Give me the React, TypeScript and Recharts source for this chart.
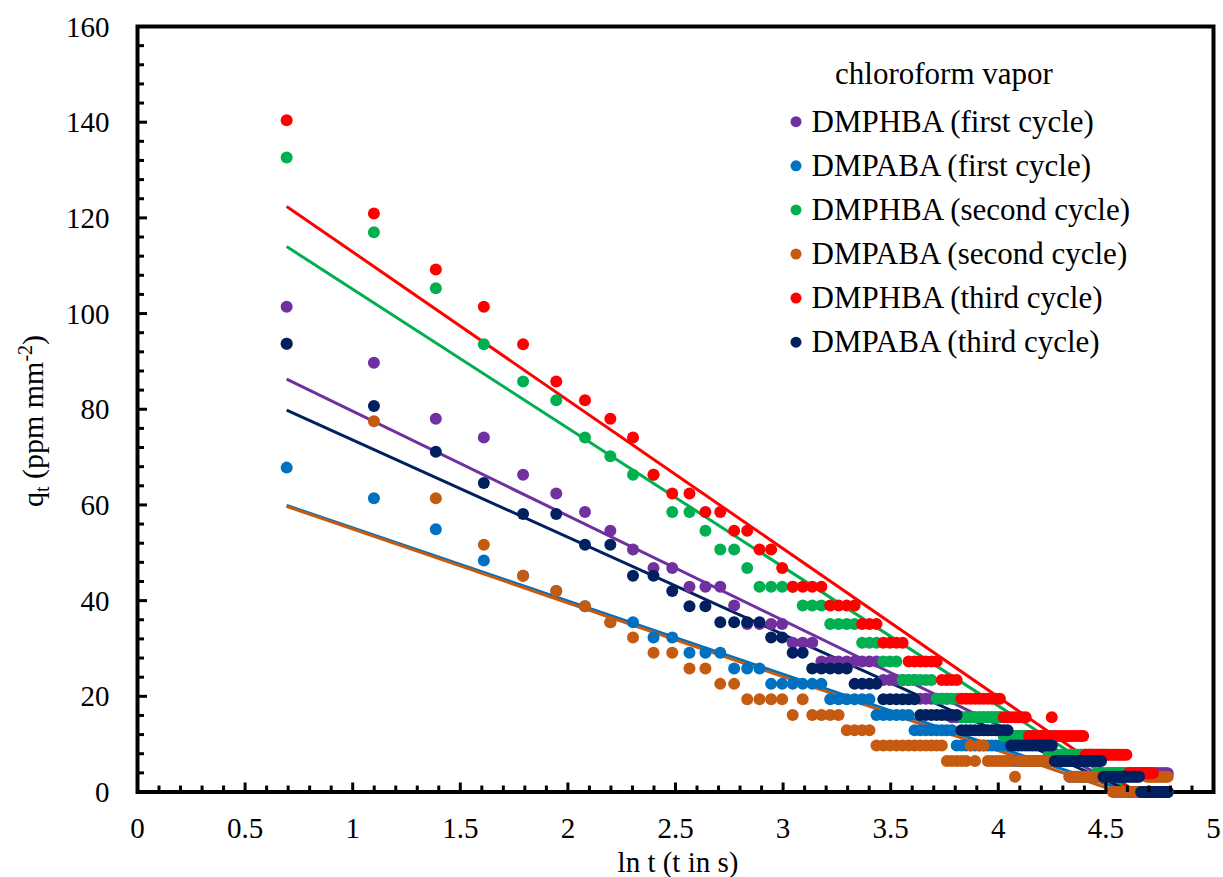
import React from "react";
import {
  ComposedChart,
  Line,
  ReferenceArea,
  Scatter,
  XAxis,
  YAxis,
} from "recharts";

const FONT = '"Liberation Serif", "Times New Roman", serif';
const W = 1223;
const H = 877;

// sampling times in seconds; the x axis is ln t
const TIME_S = [
  2, 3, 4, 5, 6, 7, 8, 9, 10, 11,
  12, 13, 14, 15, 16, 17, 18, 19, 20, 21,
  22, 23, 24, 25, 26, 27, 28, 29, 30, 31,
  32, 33, 34, 35, 36, 37, 38, 39, 40, 41,
  42, 43, 44, 45, 46, 47, 48, 49, 50, 51,
  52, 53, 54, 55, 56, 57, 58, 59, 60, 61,
  62, 63, 64, 65, 66, 67, 68, 69, 70, 71,
  72, 73, 74, 75, 76, 77, 78, 79, 80, 81,
  82, 83, 84, 85, 86, 87, 88, 89, 90, 91,
  92, 93, 94, 95, 96, 97, 98, 99, 100, 101,
  102, 103, 104, 105, 106, 107, 108, 109, 110, 111,
  112, 113, 114, 115, 116, 117, 118, 119, 120,
];

// q_t (ppm mm^-2), one value per entry of TIME_S
const DMPHBA_FIRST = [
  101.4, 89.7, 78, 74.1, 66.3, 62.4, 58.5, 54.6, 50.7, 46.8,
  46.8, 42.9, 42.9, 42.9, 39, 35.1, 35.1, 35.1, 35.1, 31.2,
  31.2, 31.2, 27.3, 27.3, 27.3, 27.3, 27.3, 27.3, 27.3, 27.3,
  23.4, 23.4, 23.4, 23.4, 23.4, 23.4, 19.5, 19.5, 19.5, 19.5,
  19.5, 19.5, 15.6, 15.6, 15.6, 15.6, 15.6, 15.6, 15.6, 15.6,
  15.6, 15.6, 15.6, 15.6, 11.7, 11.7, 11.7, 11.7, 11.7, 11.7,
  11.7, 11.7, 11.7, 11.7, 11.7, 11.7, 11.7, 11.7, 11.7, 7.8,
  7.8, 7.8, 7.8, 7.8, 7.8, 7.8, 7.8, 7.8, 7.8, 7.8,
  7.8, 7.8, 7.8, 7.8, 7.8, 7.8, 7.8, 7.8, 7.8, 3.9,
  3.9, 3.9, 3.9, 3.9, 3.9, 3.9, 3.9, 3.9, 3.9, 3.9,
  3.9, 3.9, 3.9, 3.9, 3.9, 3.9, 3.9, 3.9, 3.9, 3.9,
  3.9, 3.9, 3.9, 3.9, 3.9, 3.9, 3.9, 3.9, 3.9,
];

const DMPABA_FIRST = [
  67.8, 61.4, 54.9, 48.4, 45.2, 42, 38.8, 35.5, 35.5, 32.3,
  32.3, 29.1, 29.1, 29.1, 25.8, 25.8, 25.8, 22.6, 22.6, 22.6,
  22.6, 22.6, 22.6, 19.4, 19.4, 19.4, 19.4, 19.4, 19.4, 16.1,
  16.1, 16.1, 16.1, 16.1, 16.1, 12.9, 12.9, 12.9, 12.9, 12.9,
  12.9, 12.9, 12.9, 9.7, 9.7, 9.7, 9.7, 9.7, 9.7, 9.7,
  9.7, 9.7, 9.7, 9.7, 9.7, 9.7, 9.7, 6.5, 6.5, 6.5,
  6.5, 6.5, 6.5, 6.5, 6.5, 6.5, 6.5, 6.5, 6.5, 6.5,
  6.5, 6.5, 6.5, 6.5, 3.2, 3.2, 3.2, 3.2, 3.2, 3.2,
  3.2, 3.2, 3.2, 3.2, 3.2, 3.2, 3.2, 3.2, 3.2, 3.2,
  3.2, 3.2, 3.2, 3.2, 3.2, 3.2, 3.2, 0, 0, 0,
  0, 0, 0, 0, 0, 0, 0, 0, 0, 0,
  0, 0, 0, 0, 0, 0, 0, 0, 0,
];

const DMPHBA_SECOND = [
  132.6, 117, 105.3, 93.6, 85.8, 81.9, 74.1, 70.2, 66.3, 66.3,
  58.5, 58.5, 54.6, 50.7, 50.7, 46.8, 42.9, 42.9, 42.9, 42.9,
  39, 39, 39, 35.1, 35.1, 35.1, 35.1, 31.2, 31.2, 31.2,
  27.3, 27.3, 27.3, 23.4, 23.4, 23.4, 23.4, 23.4, 23.4, 19.5,
  19.5, 19.5, 19.5, 19.5, 15.6, 15.6, 15.6, 15.6, 15.6, 15.6,
  15.6, 15.6, 15.6, 15.6, 11.7, 11.7, 11.7, 11.7, 11.7, 11.7,
  11.7, 11.7, 11.7, 11.7, 11.7, 11.7, 11.7, 7.8, 7.8, 7.8,
  7.8, 7.8, 7.8, 7.8, 7.8, 7.8, 7.8, 7.8, 7.8, 7.8,
  7.8, 7.8, 7.8, 7.8, 3.9, 3.9, 3.9, 3.9, 3.9, 3.9,
  3.9, 3.9, 3.9, 3.9, 3.9, 3.9, 3.9, 0, 0, 0,
  0, 0, 0, 0, 0, 0, 0, 0, 0, 0,
  0, 0, 0, 0, 0, 0, 0, 0, 0,
];

const DMPABA_SECOND = [
  93.7, 77.5, 61.4, 51.7, 45.2, 42, 38.8, 35.5, 32.3, 29.1,
  29.1, 25.8, 25.8, 22.6, 22.6, 19.4, 19.4, 19.4, 19.4, 16.1,
  19.4, 16.1, 16.1, 16.1, 16.1, 12.9, 12.9, 12.9, 12.9, 9.7,
  9.7, 9.7, 9.7, 9.7, 9.7, 9.7, 9.7, 9.7, 9.7, 9.7,
  9.7, 6.5, 6.5, 6.5, 6.5, 6.5, 9.7, 6.5, 9.7, 9.7,
  6.5, 6.5, 6.5, 6.5, 6.5, 6.5, 6.5, 3.2, 6.5, 6.5,
  6.5, 6.5, 6.5, 6.5, 6.5, 6.5, 6.5, 6.5, 6.5, 6.5,
  6.5, 6.5, 6.5, 6.5, 3.2, 3.2, 3.2, 3.2, 3.2, 3.2,
  3.2, 3.2, 3.2, 3.2, 3.2, 3.2, 3.2, 3.2, 3.2, 3.2,
  3.2, 0, 0, 0, 0, 0, 0, 0, 0, 0,
  0, 0, 0, 0, 0, 0, 0, 3.2, 3.2, 3.2,
  3.2, 3.2, 3.2, 3.2, 3.2, 3.2, 3.2, 3.2, 3.2,
];

const DMPHBA_THIRD = [
  140.4, 120.9, 109.2, 101.4, 93.6, 85.8, 81.9, 78, 74.1, 66.3,
  62.4, 62.4, 58.5, 58.5, 54.6, 54.6, 50.7, 50.7, 46.8, 42.9,
  42.9, 42.9, 42.9, 39, 39, 39, 39, 35.1, 35.1, 35.1,
  31.2, 31.2, 31.2, 31.2, 27.3, 27.3, 27.3, 27.3, 27.3, 27.3,
  23.4, 23.4, 23.4, 23.4, 19.5, 19.5, 19.5, 19.5, 19.5, 19.5,
  19.5, 19.5, 19.5, 19.5, 15.6, 15.6, 15.6, 15.6, 15.6, 15.6,
  15.6, 11.7, 11.7, 11.7, 11.7, 11.7, 11.7, 11.7, 15.6, 11.7,
  11.7, 11.7, 11.7, 11.7, 11.7, 11.7, 11.7, 11.7, 11.7, 11.7,
  7.8, 7.8, 7.8, 7.8, 7.8, 7.8, 7.8, 7.8, 7.8, 7.8,
  7.8, 7.8, 7.8, 7.8, 7.8, 7.8, 7.8, 7.8, 3.9, 3.9,
  3.9, 3.9, 3.9, 3.9, 3.9, 3.9, 3.9, 3.9, 3.9, 3.9,
  3.9, 0, 0, 0, 0, 0, 0, 0, 0,
];

const DMPABA_THIRD = [
  93.7, 80.7, 71.1, 64.6, 58.1, 58.1, 51.7, 51.7, 45.2, 45.2,
  42, 38.8, 38.8, 35.5, 35.5, 35.5, 35.5, 32.3, 32.3, 29.1,
  29.1, 25.8, 25.8, 25.8, 25.8, 25.8, 22.6, 22.6, 22.6, 22.6,
  19.4, 19.4, 19.4, 19.4, 19.4, 19.4, 16.1, 16.1, 16.1, 16.1,
  16.1, 16.1, 16.1, 16.1, 12.9, 12.9, 12.9, 12.9, 12.9, 12.9,
  12.9, 12.9, 12.9, 12.9, 12.9, 12.9, 9.7, 9.7, 9.7, 9.7,
  9.7, 9.7, 9.7, 9.7, 9.7, 9.7, 9.7, 9.7, 9.7, 6.5,
  6.5, 6.5, 6.5, 6.5, 6.5, 6.5, 6.5, 6.5, 6.5, 6.5,
  6.5, 6.5, 6.5, 6.5, 6.5, 6.5, 6.5, 3.2, 3.2, 3.2,
  3.2, 3.2, 3.2, 3.2, 3.2, 3.2, 3.2, 3.2, 3.2, 3.2,
  3.2, 3.2, 3.2, 3.2, 0, 0, 0, 0, 0, 0,
  0, 0, 0, 0, 0, 0, 0, 0, 0,
];

// linear trendlines: start at ln 2, end where they reach the x axis
const FIT_DMPHBA_FIRST = [{ x: 0.693, y: 86.3 }, { x: 4.64, y: 0 }];
const FIT_DMPABA_FIRST = [{ x: 0.693, y: 59.9 }, { x: 4.61, y: 0 }];
const FIT_DMPHBA_SECOND = [{ x: 0.693, y: 114.0 }, { x: 4.62, y: 0 }];
const FIT_DMPABA_SECOND = [{ x: 0.693, y: 59.7 }, { x: 4.56, y: 0 }];
const FIT_DMPHBA_THIRD = [{ x: 0.693, y: 122.4 }, { x: 4.64, y: 0 }];
const FIT_DMPABA_THIRD = [{ x: 0.693, y: 79.8 }, { x: 4.62, y: 0 }];

const X_LABELS = [0, 0.5, 1, 1.5, 2, 2.5, 3, 3.5, 4, 4.5, 5];
const Y_LABELS = [0, 20, 40, 60, 80, 100, 120, 140, 160];
// minor ticks every 0.1 / every 4
const X_TICKS = Array.from({ length: 51 }, (_, i) => Number((i / 10).toFixed(1)));
const Y_TICKS = Array.from({ length: 41 }, (_, i) => i * 4);

const SERIES = [
  { name: "DMPHBA (first cycle)", color: "#7030A0", values: DMPHBA_FIRST, fit: FIT_DMPHBA_FIRST },
  { name: "DMPABA (first cycle)", color: "#0070C0", values: DMPABA_FIRST, fit: FIT_DMPABA_FIRST },
  { name: "DMPHBA (second cycle)", color: "#00B050", values: DMPHBA_SECOND, fit: FIT_DMPHBA_SECOND },
  { name: "DMPABA (second cycle)", color: "#C55A11", values: DMPABA_SECOND, fit: FIT_DMPABA_SECOND },
  { name: "DMPHBA (third cycle)", color: "#FF0000", values: DMPHBA_THIRD, fit: FIT_DMPHBA_THIRD },
  { name: "DMPABA (third cycle)", color: "#002060", values: DMPABA_THIRD, fit: FIT_DMPABA_THIRD },
];

const toPoints = (values: number[]) =>
  values.map((y, i) => ({ x: Math.log(TIME_S[i]), y }));

function XTick(props: any) {
  const { x, y, payload } = props;
  const major = X_LABELS.includes(payload.value);
  return (
    <g>
      <line x1={x} x2={x} y1={y} y2={y - (major ? 9.5 : 6.5)} stroke="#000" strokeWidth={3} />
      {major && (
        <text x={x} y={y + 46} textAnchor="middle" fontFamily={FONT} fontSize={29} fill="#000">
          {payload.value}
        </text>
      )}
    </g>
  );
}

function YTick(props: any) {
  const { x, y, payload } = props;
  const major = Y_LABELS.includes(payload.value);
  return (
    <g>
      <line x1={x} x2={x + (major ? 9.5 : 6.5)} y1={y} y2={y} stroke="#000" strokeWidth={3} />
      {major && (
        <text x={x - 28} y={y + 10} textAnchor="end" fontFamily={FONT} fontSize={29} fill="#000">
          {payload.value}
        </text>
      )}
    </g>
  );
}

function Overlay() {
  return (
    <svg
      width={W}
      height={H}
      style={{ position: "absolute", left: 0, top: 0, pointerEvents: "none" }}
      fontFamily={FONT}
      fill="#000"
    >
      <text x={944} y={84} textAnchor="middle" fontSize={31}>
        chloroform vapor
      </text>
      {SERIES.map((s, i) => {
        const cy = 121.7 + i * 44.1;
        return (
          <g key={s.name}>
            <circle cx={796} cy={cy} r={5.5} fill={s.color} />
            <text x={811.5} y={cy + 10} fontSize={31}>
              {s.name}
            </text>
          </g>
        );
      })}
      <text x={678} y={872} textAnchor="middle" fontSize={29}>
        ln t (t in s)
      </text>
      <text
        x={43}
        y={421}
        textAnchor="middle"
        fontSize={30}
        transform="rotate(-90 43 421)"
      >
        q<tspan fontSize={20} dy={6}>t</tspan>
        <tspan dy={-6}> (ppm mm</tspan>
        <tspan fontSize={20} dy={-11}>-2</tspan>
        <tspan dy={11}>)</tspan>
      </text>
    </svg>
  );
}

export default function App() {
  return (
    <div style={{ position: "absolute", left: 0, top: 0, width: W, height: H, background: "#fff" }}>
      <ComposedChart
        width={W}
        height={H}
        margin={{ top: 26.5, right: 9.5, bottom: 25, left: 37.5 }}
      >
        <XAxis
          type="number"
          dataKey="x"
          domain={[0, 5]}
          ticks={X_TICKS}
          interval={0}
          height={60}
          tickSize={0}
          tickMargin={0}
          axisLine={false}
          tickLine={false}
          tick={(p: any) => <XTick {...p} />}
        />
        <YAxis
          type="number"
          dataKey="y"
          domain={[0, 160]}
          ticks={Y_TICKS}
          interval={0}
          width={100}
          tickSize={0}
          tickMargin={0}
          axisLine={false}
          tickLine={false}
          tick={(p: any) => <YTick {...p} />}
        />
        <ReferenceArea
          x1={0}
          x2={5}
          y1={0}
          y2={160}
          fill="none"
          stroke="#000"
          strokeWidth={4}
        />
        {SERIES.map((s) => (
          <Scatter
            key={s.name}
            name={s.name}
            data={toPoints(s.values)}
            isAnimationActive={false}
            shape={(p: any) => <circle cx={p.cx} cy={p.cy} r={6} fill={s.color} />}
          />
        ))}
        {SERIES.map((s) => (
          <Line
            key={`fit-${s.name}`}
            data={s.fit}
            dataKey="y"
            type="linear"
            stroke={s.color}
            strokeWidth={3}
            dot={false}
            activeDot={false}
            legendType="none"
            isAnimationActive={false}
          />
        ))}
      </ComposedChart>
      <Overlay />
    </div>
  );
}
